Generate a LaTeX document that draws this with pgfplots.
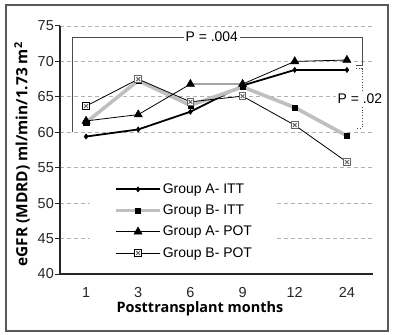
\documentclass[border=0pt]{standalone}
\usepackage{fontspec}
\setmainfont{Liberation Sans}
\newfontfamily\labfont{Open Sans}
\usepackage{pgfplots}
\pgfplotsset{compat=1.18}
\pgfdeclareplotmark{sqx}{%
 \pgfpathrectangle{\pgfpoint{-\pgfplotmarksize}{-\pgfplotmarksize}}{\pgfpoint{2\pgfplotmarksize}{2\pgfplotmarksize}}%
 \pgfusepathqfillstroke
 \pgfsetstrokecolor{black!60}%
 \pgfpathmoveto{\pgfpoint{-.55\pgfplotmarksize}{-.55\pgfplotmarksize}}\pgfpathlineto{\pgfpoint{.55\pgfplotmarksize}{.55\pgfplotmarksize}}%
 \pgfpathmoveto{\pgfpoint{-.55\pgfplotmarksize}{.55\pgfplotmarksize}}\pgfpathlineto{\pgfpoint{.55\pgfplotmarksize}{-.55\pgfplotmarksize}}%
 \pgfusepathqstroke}
\begin{document}
\begin{tikzpicture}
\begin{axis}[
  at={(60bp,61bp)}, anchor=south west,
  width=313bp, height=248bp, scale only axis,
  xmin=-0.5, xmax=5.5, ymin=40, ymax=75,
  axis x line=bottom, axis y line=left,
  axis line style={-, black!85, line width=1.1pt},
  xtick={0,...,5}, xticklabels={1,3,6,9,12,24},
  extra x ticks={0.5,1.5,2.5,3.5,4.5,5.5}, extra x tick labels={},
  extra x tick style={major tick length=4bp, tick style={black!85, line width=1pt}, tick align=inside},
  major x tick style={draw=none},
  ytick={40,45,...,75},
  y tick style={black!85, line width=1pt}, tick align=outside, major tick length=5bp,
  ymajorgrids, major grid style={gray!60, dashed, dash pattern=on 4bp off 3bp, line width=0.8pt},
  /pgf/number format/assume math mode=true,
  tick label style={font=\fontsize{14.5}{16}\selectfont, text=black!85},
  yticklabel style={inner sep=1bp},
  xticklabel style={anchor=base, yshift=-18bp, inner sep=0.5bp},
  xlabel={\labfont\bfseries Posttransplant months},
  ylabel={\labfont\bfseries eGFR (MDRD) ml/min/1.73 m\textsuperscript{2}},
  xlabel style={font=\fontsize{14.5}{16}\selectfont, at={(axis description cs:0.447,0)}, anchor=base, yshift=-38.5bp, inner sep=0.5bp},
  ylabel style={font=\fontsize{15.5}{17}\selectfont, at={(axis description cs:-0.121,0.482)}, anchor=center},
  clip=false,
  legend style={at={(axis description cs:0.096,0.385)}, anchor=north west, draw=none, fill=white,
     font=\fontsize{14}{15}\selectfont, row sep=6bp, inner xsep=24bp, inner ysep=3bp,
     cells={anchor=west}, nodes={inner xsep=1bp}},
  legend image code/.code={\draw[mark repeat=2, mark phase=2, #1] plot coordinates {(0bp,0bp) (22bp,0bp) (44bp,0bp)};},
  legend cell align=left,
]
\addplot[black, line width=1.8pt, mark=diamond*, mark size=2.6bp, mark options={solid, line width=0.5pt}]
  coordinates {(0,59.4) (1,60.4) (2,62.9) (3,66.6) (4,68.8) (5,68.8)};
\addlegendentry{Group A- ITT}
\addplot[black!25, line width=3.6pt, mark=square*, mark size=2.6bp, mark options={black, solid, line width=0.3pt}]
  coordinates {(0,61.4) (1,67.3) (2,63.8) (3,66.4) (4,63.5) (5,59.5)};
\addlegendentry{Group B- ITT}
\addplot[black, line width=0.8pt, mark=triangle*, mark size=4.8bp, mark options={solid, line width=0.4pt}]
  coordinates {(0,61.6) (1,62.5) (2,66.8) (3,66.8) (4,70.0) (5,70.2)};
\addlegendentry{Group A- POT}
\addplot[black, line width=0.8pt, mark=sqx, mark size=3.4bp, mark options={solid, fill=white, line width=1pt}]
  coordinates {(0,63.7) (1,67.5) (2,64.3) (3,65.1) (4,61.0) (5,55.8)};
\addlegendentry{Group B- POT}
% significance brackets
\draw[black!70, line width=0.8pt] (axis cs:-0.27,60) -- (axis cs:-0.27,73.45) -- (axis cs:5.29,73.45) -- (axis cs:5.29,69.5) -- (axis cs:5.17,69.5);
\node[fill=white, inner sep=2bp, font=\fontsize{14}{15}\selectfont] at (axis cs:2.41,73.45) {P = .004};
\draw[black!70, line width=0.8pt, dotted] (axis cs:5.17,69.0) -- (axis cs:5.29,69.0) -- (axis cs:5.29,60.6) -- (axis cs:5.17,60.6);
\node[fill=white, inner sep=1.5bp, font=\fontsize{14}{15}\selectfont] at (axis cs:5.25,64.8) {P = .02};
\end{axis}
\draw[black!65, line width=1.3pt] (6bp,4bp) rectangle (388bp,330bp);
\pgfresetboundingbox
\path[use as bounding box] (0,0) rectangle (395bp,335bp);
\end{tikzpicture}
\end{document}
